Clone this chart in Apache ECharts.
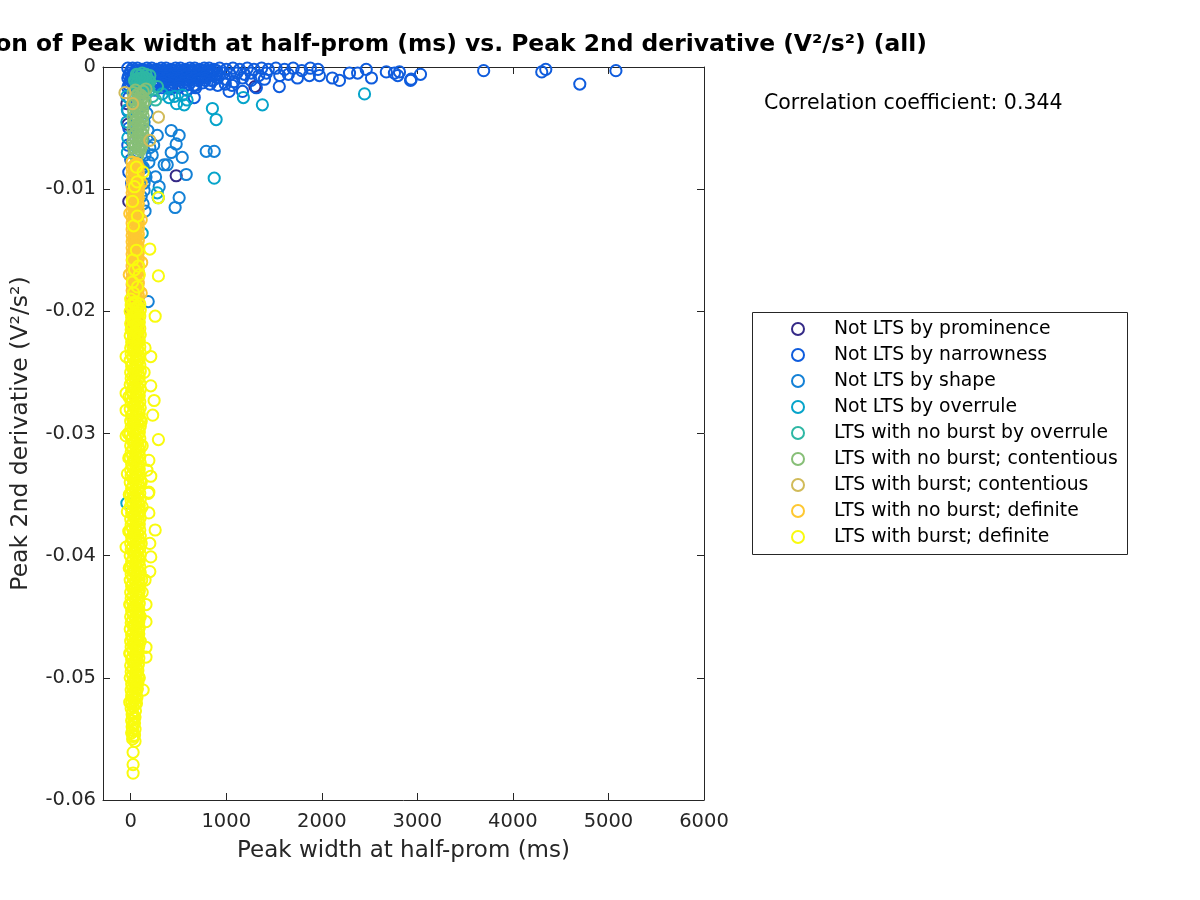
<!DOCTYPE html>
<html>
<head>
<meta charset="utf-8">
<script src="https://cdn.jsdelivr.net/npm/echarts@6/dist/echarts.min.js"></script>
<style>
html,body{margin:0;padding:0;background:#fff;}
#chart{width:1200px;height:900px;}
</style>
</head>
<body>
<div id="chart"></div>
<script>
const xTickValues = [0, 1000, 2000, 3000, 4000, 5000, 6000];
const yTickValues = [0, -0.01, -0.02, -0.03, -0.04, -0.05, -0.06];

const seriesNames = [
  'Not LTS by prominence',
  'Not LTS by narrowness',
  'Not LTS by shape',
  'Not LTS by overrule',
  'LTS with no burst by overrule',
  'LTS with no burst; contentious',
  'LTS with burst; contentious',
  'LTS with no burst; definite',
  'LTS with burst; definite'
];
const seriesColors = ['#352a87', '#0f5cdd', '#1481d6', '#06a4ca', '#2eb7a4', '#87bf77', '#d1bb59', '#fec832', '#f9fb0e'];

const notLtsProminence = [
  [476,-0.0089],[-40,-0.0030],[-30,-0.0047],[430,-0.0017],[60,-0.0090],[20,-0.0062],[-20,-0.0110],[10,-0.0200],[1300,-0.0016]
];

const notLtsNarrowness = [
  [-30,-0.0001],[20,-0.0001],[70,-0.0001],[120,-0.0002],[170,-0.0001],[220,-0.0001],[270,-0.0002],[320,-0.0001],[370,-0.0001],[420,-0.0002],
  [470,-0.0001],[520,-0.0001],[570,-0.0002],[620,-0.0001],[670,-0.0001],[720,-0.0002],[770,-0.0001],[820,-0.0001],[870,-0.0002],[930,-0.0001],
  [1000,-0.0002],[1070,-0.0001],[1140,-0.0002],[1220,-0.0001],[1290,-0.0002],[1370,-0.0001],[1440,-0.0002],[1520,-0.0001],[1610,-0.0002],[1700,-0.0001],
  [1790,-0.0003],[1880,-0.0001],[1960,-0.0002],
  [0,-0.0003],[50,-0.0003],[100,-0.0003],[150,-0.0003],[200,-0.0003],[250,-0.0003],[300,-0.0003],[350,-0.0003],[400,-0.0003],[450,-0.0003],
  [500,-0.0003],[550,-0.0003],[600,-0.0003],[650,-0.0003],[700,-0.0003],[750,-0.0003],[800,-0.0003],[850,-0.0003],[900,-0.0003],
  [-5,-0.0005],[45,-0.0005],[95,-0.0005],[145,-0.0006],[195,-0.0005],[245,-0.0005],[295,-0.0006],[345,-0.0005],[395,-0.0005],[445,-0.0006],
  [495,-0.0005],[545,-0.0005],[595,-0.0006],[645,-0.0005],[695,-0.0005],[745,-0.0006],[795,-0.0005],[845,-0.0005],[900,-0.0006],[970,-0.0005],
  [1040,-0.0006],[1110,-0.0005],[1190,-0.0006],[1260,-0.0005],[1340,-0.0007],[1420,-0.0005],[1560,-0.0007],[1650,-0.0006],
  [-20,-0.0007],[30,-0.0007],[80,-0.0007],[130,-0.0007],[180,-0.0007],[230,-0.0007],[280,-0.0007],[330,-0.0007],[380,-0.0007],[430,-0.0007],
  [480,-0.0007],[530,-0.0007],[580,-0.0007],[630,-0.0007],[680,-0.0007],[730,-0.0007],[780,-0.0007],[830,-0.0007],
  [-30,-0.0009],[20,-0.0009],[70,-0.0009],[120,-0.0010],[170,-0.0009],[220,-0.0009],[270,-0.0010],[320,-0.0009],[370,-0.0009],[420,-0.0010],
  [470,-0.0009],[520,-0.0009],[570,-0.0010],[620,-0.0009],[670,-0.0009],[720,-0.0010],[780,-0.0009],[840,-0.0011],[910,-0.0009],[990,-0.0010],
  [1080,-0.0012],[1170,-0.0009],[1260,-0.0011],[1400,-0.0010],
  [0,-0.0011],[50,-0.0011],[100,-0.0011],[150,-0.0011],[200,-0.0011],[250,-0.0011],[300,-0.0011],[350,-0.0011],[400,-0.0011],[450,-0.0011],
  [500,-0.0011],[560,-0.0011],[620,-0.0011],[700,-0.0011],[780,-0.0011],[860,-0.0011],
  [-5,-0.0013],[45,-0.0013],[95,-0.0014],[145,-0.0013],[195,-0.0013],[245,-0.0014],[295,-0.0013],[345,-0.0013],[395,-0.0014],[445,-0.0013],
  [495,-0.0014],[550,-0.0013],[610,-0.0014],[680,-0.0015],[750,-0.0013],[830,-0.0014],[910,-0.0015],[990,-0.0014],
  [-20,-0.0015],[40,-0.0015],[110,-0.0015],[180,-0.0015],[260,-0.0015],[340,-0.0015],[420,-0.0015],[500,-0.0015],[580,-0.0015],[660,-0.0015],
  [-30,-0.0017],[30,-0.0017],[100,-0.0018],[170,-0.0017],[250,-0.0019],[330,-0.0017],[410,-0.0018],[500,-0.0017],[590,-0.0019],[680,-0.0017],
  [665,-0.0025],[1030,-0.0020],[1170,-0.0020],[1315,-0.0017],[1555,-0.0016],[1060,-0.0015],
  [1745,-0.0009],[1870,-0.0007],[1975,-0.0007],[2110,-0.0009],[2185,-0.0011],[2290,-0.0005],[2375,-0.0005],[2465,-0.0002],[2520,-0.0009],[2675,-0.0004],
  [2760,-0.0005],[2795,-0.0007],[2813,-0.0004],[2929,-0.0011],[2935,-0.0010],[3033,-0.0006],[3694,-0.0003],[4302,-0.0004],[4344,-0.0002],[4700,-0.0014],[5078,-0.0003],
  [-20,-0.0025],[-30,-0.0036],[-20,-0.0050],[-30,-0.0064],[0,-0.0076],[-20,-0.0086],[10,-0.0095],[30,-0.0100]
];

const notLtsShape = [
  [150,-0.0030],[170,-0.0038],[140,-0.0045],[180,-0.0052],[130,-0.0060],[200,-0.0066],[150,-0.0072],[190,-0.0078],[120,-0.0083],[160,-0.0090],
  [100,-0.0096],[140,-0.0101],[110,-0.0106],[130,-0.0082],[150,-0.0088],[140,-0.0095],[130,-0.0112],[150,-0.0118],
  [424,-0.0052],[507,-0.0056],[476,-0.0063],[424,-0.0070],[539,-0.0074],[382,-0.0080],[581,-0.0088],[790,-0.0069],[874,-0.0069],
  [507,-0.0107],[465,-0.0115],[278,-0.0056],[298,-0.0098],[350,-0.0080],[225,-0.0072],[183,-0.0192],[240,-0.0064],[260,-0.0090]
];

const notLtsOverrule = [
  [855,-0.0034],[894,-0.0043],[874,-0.0091],[2447,-0.0022],[1378,-0.0031],[1179,-0.0025],[330,-0.0022],[400,-0.0025],[460,-0.0024],[540,-0.0023],
  [480,-0.0030],[560,-0.0031],[590,-0.0027],[288,-0.0107],[278,-0.0103],[120,-0.0136],[-40,-0.0357],[60,-0.0205],[70,-0.0128],
  [-40,-0.0024],[-35,-0.0035],[-40,-0.0045],[-30,-0.0058],[-35,-0.0070]
];

const ltsNoBurstOverrule = [
  [80,-0.0006],[120,-0.0005],[160,-0.0006],[100,-0.0009],[140,-0.0008],[180,-0.0010],[80,-0.0011],[120,-0.0012],[160,-0.0013],[100,-0.0015],
  [140,-0.0016],[70,-0.0017],[190,-0.0019],[120,-0.0020],[230,-0.0024],[260,-0.0027],[280,-0.0016],
  [100,-0.0007],[140,-0.0011],[100,-0.0013],[180,-0.0015],[60,-0.0010],[160,-0.0009],
  [60,-0.0006],[200,-0.0007],[60,-0.0014],[200,-0.0012],[80,-0.0019],[160,-0.0019],[120,-0.0009],[120,-0.0017],[40,-0.0011]
];

const ltsNoBurstContentious = [
  [25,-0.0021],[77,-0.0022],[130,-0.0020],[30,-0.0026],[80,-0.0027],[125,-0.0025],[25,-0.0031],[75,-0.0032],[130,-0.0030],[30,-0.0036],
  [80,-0.0037],[125,-0.0035],[25,-0.0041],[75,-0.0042],[130,-0.0040],[30,-0.0046],[80,-0.0047],[125,-0.0045],[25,-0.0051],[75,-0.0052],
  [130,-0.0050],[30,-0.0056],[80,-0.0057],[125,-0.0055],[25,-0.0061],[75,-0.0062],[120,-0.0060],[30,-0.0066],[80,-0.0067],[115,-0.0065],
  [35,-0.0071],[75,-0.0072],[160,-0.0018],[150,-0.0028],
  [50,-0.0019],[105,-0.0023],[50,-0.0024],[105,-0.0028],[50,-0.0029],[105,-0.0033],[50,-0.0034],[105,-0.0038],[50,-0.0039],[105,-0.0043],
  [50,-0.0044],[105,-0.0048],[50,-0.0049],[105,-0.0053],[50,-0.0054],[105,-0.0058],[50,-0.0059],[105,-0.0063],[50,-0.0064],[100,-0.0068],
  [55,-0.0069],[60,-0.0074]
];

const ltsBurstContentious = [
  [290,-0.0041],[200,-0.0060],[-60,-0.0021],[20,-0.0030],[80,-0.0100],[50,-0.0140]
];

const ltsNoBurstDefinite = [
  [15,-0.0078],[48,-0.0080],[80,-0.0082],[15,-0.0083],[48,-0.0085],[80,-0.0087],[15,-0.0088],[48,-0.0090],[80,-0.0092],[15,-0.0093],
  [48,-0.0095],[80,-0.0097],[15,-0.0098],[48,-0.0100],[80,-0.0102],[15,-0.0103],[48,-0.0105],[80,-0.0107],[15,-0.0108],[48,-0.0110],
  [80,-0.0112],[15,-0.0113],[48,-0.0115],[80,-0.0117],[15,-0.0118],[48,-0.0120],[80,-0.0122],[15,-0.0123],[48,-0.0125],[80,-0.0127],
  [15,-0.0128],[48,-0.0130],[80,-0.0132],[15,-0.0133],[48,-0.0135],[80,-0.0137],[15,-0.0138],[48,-0.0140],[80,-0.0142],[15,-0.0143],
  [48,-0.0145],[80,-0.0147],[15,-0.0148],[48,-0.0150],[80,-0.0152],[15,-0.0153],[48,-0.0155],[80,-0.0157],[15,-0.0158],[48,-0.0160],
  [80,-0.0162],[15,-0.0163],[48,-0.0165],[80,-0.0167],[15,-0.0168],[48,-0.0170],[80,-0.0172],[15,-0.0173],[48,-0.0175],[80,-0.0177],
  [15,-0.0178],[48,-0.0180],[80,-0.0182],[15,-0.0183],[48,-0.0185],[80,-0.0187],[15,-0.0188],[48,-0.0190],[80,-0.0192],[15,-0.0193],
  [48,-0.0195],[80,-0.0197],[15,-0.0198],[48,-0.0200],[80,-0.0202],[15,-0.0203],[48,-0.0205],[80,-0.0207],[15,-0.0208],[48,-0.0210],
  [80,-0.0212],[15,-0.0213],[48,-0.0215],[80,-0.0217],[30,-0.0220],[60,-0.0224],[30,-0.0230],[70,-0.0240],[40,-0.0255],[60,-0.0270],[30,-0.0290],
  [110,-0.0095],[110,-0.0125],[115,-0.0160],[110,-0.0185],[-10,-0.0120],[-15,-0.0170],
  [30,-0.0081],[35,-0.0086],[30,-0.0091],[35,-0.0096],[30,-0.0101],[35,-0.0106],[30,-0.0111],[35,-0.0116],[30,-0.0121],[35,-0.0126],
  [30,-0.0131],[35,-0.0136],[30,-0.0141],[35,-0.0146],[30,-0.0151],[35,-0.0156],[30,-0.0161],[35,-0.0166],[30,-0.0171],[35,-0.0176],
  [30,-0.0181],[35,-0.0186],[30,-0.0191],[35,-0.0196],[30,-0.0201],[35,-0.0206],[30,-0.0211],[35,-0.0216],[30,-0.0221],
  [65,-0.0079],[60,-0.0084],[65,-0.0089],[60,-0.0094],[65,-0.0099],[60,-0.0104],[65,-0.0109],[60,-0.0114],[65,-0.0119],[60,-0.0124],
  [65,-0.0129],[60,-0.0134],[65,-0.0139],[60,-0.0144],[65,-0.0149],[60,-0.0154],[65,-0.0159],[60,-0.0164],[65,-0.0169],[60,-0.0174],
  [65,-0.0179],[60,-0.0184],[65,-0.0189],[60,-0.0194],[65,-0.0199],[60,-0.0204],[65,-0.0209],[60,-0.0214],[65,-0.0219]
];

const ltsBurstDefiniteSparse = [
  [60,-0.0082],[130,-0.0086],[67,-0.0094],[290,-0.0107],[40,-0.0098],[20,-0.0110],[70,-0.0122],[30,-0.0130],[200,-0.0149],[60,-0.0150],
  [20,-0.0158],[80,-0.0163],[290,-0.0171],[40,-0.0166],[90,-0.0170],[20,-0.0176],[70,-0.0180],[30,-0.0185],
  [-20,-0.0270],[-25,-0.0300],[110,-0.0290],[120,-0.0310],[-20,-0.0320],[110,-0.0340],[-15,-0.0350],[120,-0.0360],[-20,-0.0380],[110,-0.0390],
  [-15,-0.0410],[115,-0.0420],[100,-0.0450],[-10,-0.0440],[100,-0.0470],[-10,-0.0480],[90,-0.0500],[-10,-0.0520],
  [256,-0.0204],[210,-0.0237],[210,-0.0261],[245,-0.0273],[230,-0.0285],[290,-0.0305],[-48,-0.0267],[-48,-0.0281],[-48,-0.0302],[-35,-0.0333],
  [190,-0.0322],[210,-0.0335],[190,-0.0348],[-48,-0.0237],[185,-0.0349],[190,-0.0365],[256,-0.0379],[200,-0.0390],[210,-0.0401],[200,-0.0413],
  [-35,-0.0364],[-48,-0.0393],[160,-0.0440],[160,-0.0454],[160,-0.0475],[160,-0.0483],[130,-0.0510],[25,-0.0561],[25,-0.0571],[25,-0.0578],
  [150,-0.0230],[140,-0.0250],[170,-0.0330],[150,-0.0420],[120,-0.0430]
];

const ltsBurstDefiniteCoreA = [
  [0,-0.0190],[5,-0.0195],[-5,-0.0200],[10,-0.0205],[0,-0.0210],[5,-0.0215],[-5,-0.0220],[10,-0.0225],[0,-0.0230],
  [5,-0.0235],[-5,-0.0240],[10,-0.0245],[0,-0.0250],[5,-0.0255],[-5,-0.0260],[10,-0.0265],[0,-0.0270],[5,-0.0275],[-5,-0.0280],
  [10,-0.0285],[0,-0.0290],[5,-0.0295],[-5,-0.0300],[10,-0.0305],[0,-0.0310],[5,-0.0315],[-5,-0.0320],[10,-0.0325],[0,-0.0330],
  [5,-0.0335],[-5,-0.0340],[10,-0.0345],[0,-0.0350],[5,-0.0355],[-5,-0.0360],[10,-0.0365],[0,-0.0370],[5,-0.0375],[-5,-0.0380],
  [10,-0.0385],[0,-0.0390],[5,-0.0395],[-5,-0.0400],[10,-0.0405],[0,-0.0410],[5,-0.0415],[-5,-0.0420],[10,-0.0425],[0,-0.0430],
  [5,-0.0435],[-5,-0.0440],[10,-0.0445],[0,-0.0450],[5,-0.0455],[-5,-0.0460],[10,-0.0465],[0,-0.0470],[5,-0.0475],[-5,-0.0480],
  [10,-0.0485],[0,-0.0490],[5,-0.0495],[-5,-0.0500],[10,-0.0505],[5,-0.0510],[10,-0.0515],[10,-0.0520],[5,-0.0525],
  [15,-0.0530],[10,-0.0535],[15,-0.0540],[10,-0.0545],[20,-0.0550]
];

const ltsBurstDefiniteCoreB = [
  [50,-0.0192],[55,-0.0197],[50,-0.0202],[45,-0.0207],[55,-0.0212],[50,-0.0217],[45,-0.0222],[55,-0.0227],
  [45,-0.0232],[55,-0.0237],[50,-0.0242],[45,-0.0247],[55,-0.0252],[50,-0.0257],[45,-0.0262],[55,-0.0267],[50,-0.0272],[45,-0.0277],
  [55,-0.0282],[50,-0.0287],[45,-0.0292],[55,-0.0297],[50,-0.0302],[45,-0.0307],[55,-0.0312],[50,-0.0317],[45,-0.0322],[55,-0.0327],
  [50,-0.0332],[45,-0.0337],[55,-0.0342],[50,-0.0347],[45,-0.0352],[55,-0.0357],[50,-0.0362],[45,-0.0367],[55,-0.0372],[50,-0.0377],
  [45,-0.0382],[55,-0.0387],[50,-0.0392],[45,-0.0397],[55,-0.0402],[50,-0.0407],[45,-0.0412],[55,-0.0417],[50,-0.0422],[45,-0.0427],
  [55,-0.0432],[50,-0.0437],[45,-0.0442],[55,-0.0447],[50,-0.0452],[45,-0.0457],[55,-0.0462],[50,-0.0467],[45,-0.0472],[55,-0.0477],
  [50,-0.0482],[45,-0.0487],[55,-0.0492],[50,-0.0497],[45,-0.0502],[50,-0.0507],[45,-0.0512],[50,-0.0517],[45,-0.0522],[50,-0.0527],
  [45,-0.0532],[40,-0.0537],[45,-0.0542],[40,-0.0547],[45,-0.0552]
];

const ltsBurstDefiniteCoreC = [
  [95,-0.0194],[100,-0.0199],[95,-0.0204],[90,-0.0209],[95,-0.0214],[100,-0.0219],[90,-0.0224],[95,-0.0229],
  [100,-0.0234],[90,-0.0239],[95,-0.0244],[100,-0.0249],[90,-0.0254],[95,-0.0259],[100,-0.0264],[90,-0.0269],[95,-0.0274],[100,-0.0279],
  [90,-0.0284],[95,-0.0289],[100,-0.0294],[90,-0.0299],[95,-0.0304],[100,-0.0309],[90,-0.0314],[95,-0.0319],[100,-0.0324],[90,-0.0329],
  [95,-0.0334],[100,-0.0339],[90,-0.0344],[95,-0.0349],[100,-0.0354],[90,-0.0359],[95,-0.0364],[100,-0.0369],[90,-0.0374],[95,-0.0379],
  [100,-0.0384],[90,-0.0389],[95,-0.0394],[100,-0.0399],[90,-0.0404],[95,-0.0409],[100,-0.0414],[90,-0.0419],[95,-0.0424],[90,-0.0429],
  [85,-0.0434],[90,-0.0439],[85,-0.0444],[90,-0.0449],[85,-0.0454],[90,-0.0459],[85,-0.0464],[80,-0.0469],[85,-0.0474],[80,-0.0479],
  [85,-0.0484],[80,-0.0489],[75,-0.0494],[80,-0.0499],[75,-0.0504],[70,-0.0509]
];

const ltsBurstDefiniteCoreD = [
  [25,-0.0193],[20,-0.0198],[30,-0.0203],[25,-0.0208],[20,-0.0213],[30,-0.0218],[25,-0.0223],[20,-0.0228],[30,-0.0233],[25,-0.0238],
  [20,-0.0243],[30,-0.0248],[25,-0.0253],[20,-0.0258],[30,-0.0263],[25,-0.0268],[20,-0.0273],[30,-0.0278],[25,-0.0283],[20,-0.0288],
  [30,-0.0293],[25,-0.0298],[20,-0.0303],[30,-0.0308],[25,-0.0313],[20,-0.0318],[30,-0.0323],[25,-0.0328],[20,-0.0333],[30,-0.0338],
  [25,-0.0343],[20,-0.0348],[30,-0.0353],[25,-0.0358],[20,-0.0363],[30,-0.0368],[25,-0.0373],[20,-0.0378],[30,-0.0383],[25,-0.0388],
  [20,-0.0393],[30,-0.0398],[25,-0.0403],[20,-0.0408],[30,-0.0413],[25,-0.0418],[20,-0.0423],[30,-0.0428],[25,-0.0433],[20,-0.0438],
  [30,-0.0443],[25,-0.0448],[20,-0.0453],[30,-0.0458],[25,-0.0463],[20,-0.0468],[30,-0.0473],[25,-0.0478],[20,-0.0483],[30,-0.0488],
  [25,-0.0493],[20,-0.0498],[30,-0.0503],[25,-0.0508],[20,-0.0513],[30,-0.0518],[25,-0.0523],[20,-0.0528],[30,-0.0533],[25,-0.0538],
  [20,-0.0543],[25,-0.0548]
];

const ltsBurstDefiniteCoreE = [
  [75,-0.0196],[70,-0.0201],[80,-0.0206],[75,-0.0211],[70,-0.0216],[80,-0.0221],[75,-0.0226],[70,-0.0231],[80,-0.0236],[75,-0.0241],
  [70,-0.0246],[80,-0.0251],[75,-0.0256],[70,-0.0261],[80,-0.0266],[75,-0.0271],[70,-0.0276],[80,-0.0281],[75,-0.0286],[70,-0.0291],
  [80,-0.0296],[75,-0.0301],[70,-0.0306],[80,-0.0311],[75,-0.0316],[70,-0.0321],[80,-0.0326],[75,-0.0331],[70,-0.0336],[80,-0.0341],
  [75,-0.0346],[70,-0.0351],[80,-0.0356],[75,-0.0361],[70,-0.0366],[80,-0.0371],[75,-0.0376],[70,-0.0381],[80,-0.0386],[75,-0.0391],
  [70,-0.0396],[80,-0.0401],[75,-0.0406],[70,-0.0411],[80,-0.0416],[75,-0.0421],[70,-0.0426],[80,-0.0431],[75,-0.0436],[70,-0.0441],
  [80,-0.0446],[75,-0.0451],[70,-0.0456],[80,-0.0461],[75,-0.0466],[70,-0.0471],[65,-0.0476],[70,-0.0481],[65,-0.0486],[60,-0.0491],
  [65,-0.0496],[60,-0.0501],[65,-0.0506],[60,-0.0511],[65,-0.0516],[60,-0.0521]
];

const ltsBurstDefinite = ltsBurstDefiniteSparse.concat(
  ltsBurstDefiniteCoreA, ltsBurstDefiniteCoreB, ltsBurstDefiniteCoreC, ltsBurstDefiniteCoreD, ltsBurstDefiniteCoreE);

const seriesData = [
  notLtsProminence, notLtsNarrowness, notLtsShape, notLtsOverrule, ltsNoBurstOverrule,
  ltsNoBurstContentious, ltsBurstContentious, ltsNoBurstDefinite, ltsBurstDefinite
];

const FONT = 'DejaVu Sans';
const AXIS_COLOR = '#262626';

const chart = echarts.init(document.getElementById('chart'), null, { renderer: 'canvas' });

const hollow = (c) => ({ color: 'rgba(0,0,0,0)', borderColor: c, borderWidth: 2, opacity: 1 });

const series = seriesNames.map((name, i) => ({
  name: name,
  type: 'scatter',
  data: seriesData[i],
  symbol: 'circle',
  symbolSize: 11.2,
  itemStyle: hollow(seriesColors[i]),
  emphasis: { disabled: true },
  silent: true,
  clip: false,
  large: false
}));

const xAxisBase = {
  type: 'value',
  min: -290,
  max: 6000,
  splitLine: { show: false },
  axisLine: { show: true, onZero: false, lineStyle: { color: AXIS_COLOR, width: 1 } },
  axisTick: { show: true, inside: true, length: 7, customValues: xTickValues, lineStyle: { color: AXIS_COLOR } }
};
const yAxisBase = {
  type: 'value',
  min: -0.06,
  max: 0,
  splitLine: { show: false },
  axisLine: { show: true, onZero: false, lineStyle: { color: AXIS_COLOR, width: 1 } },
  axisTick: { show: true, inside: true, length: 7, customValues: yTickValues, lineStyle: { color: AXIS_COLOR } }
};

const option = {
  animation: false,
  backgroundColor: '#fff',
  grid: { left: 103, top: 67, right: 496, bottom: 100, containLabel: false },
  xAxis: [
    Object.assign({}, xAxisBase, {
      position: 'bottom',
      name: 'Peak width at half-prom (ms)',
      nameLocation: 'middle',
      nameGap: 40,
      nameTextStyle: { fontFamily: FONT, fontSize: 23, color: AXIS_COLOR },
      axisLabel: { show: true, customValues: xTickValues, margin: 12, fontFamily: FONT, fontSize: 19.5, color: AXIS_COLOR,
        formatter: (v) => String(v) }
    }),
    Object.assign({}, xAxisBase, { position: 'top', axisLabel: { show: false } })
  ],
  yAxis: [
    Object.assign({}, yAxisBase, {
      position: 'left',
      name: 'Peak 2nd derivative (V²/s²)',
      nameLocation: 'middle',
      nameGap: 70,
      nameTextStyle: { fontFamily: FONT, fontSize: 23.5, color: AXIS_COLOR },
      axisLabel: { show: true, customValues: yTickValues, margin: 7, fontFamily: FONT, fontSize: 19.5, color: AXIS_COLOR,
        formatter: (v) => (Math.abs(v) < 1e-12 ? '0' : String(Math.round(v * 100) / 100)) }
    }),
    Object.assign({}, yAxisBase, { position: 'right', axisLabel: { show: false } })
  ],
  legend: {
    orient: 'vertical',
    left: 791,
    top: 319,
    padding: 0,
    itemWidth: 12,
    itemHeight: 12,
    itemGap: 6,
    selectedMode: false,
    textStyle: { fontFamily: FONT, fontSize: 18.8, color: '#000', lineHeight: 20, padding: [0, 0, 0, 25] },
    data: seriesNames.map((n, i) => ({ name: n, icon: 'circle', itemStyle: hollow(seriesColors[i]) }))
  },
  graphic: [
    {
      type: 'text', x: 403.5, y: 45, silent: true,
      style: {
        text: 'Correlation of Peak width at half-prom (ms) vs. Peak 2nd derivative (V²/s²) (all)',
        align: 'center', verticalAlign: 'middle',
        fontFamily: FONT, fontWeight: 'bold', fontSize: 23.4, fill: '#000'
      }
    },
    {
      type: 'text', x: 764, y: 104, silent: true,
      style: {
        text: 'Correlation coefficient: 0.344',
        align: 'left', verticalAlign: 'middle',
        fontFamily: FONT, fontSize: 20.5, fill: '#000'
      }
    },
    {
      type: 'rect', silent: true, z: -1,
      shape: { x: 752.5, y: 312.5, width: 375, height: 242 },
      style: { fill: '#fff', stroke: AXIS_COLOR, lineWidth: 1 }
    }
  ],
  series: series
};

chart.setOption(option);
</script>
</body>
</html>
